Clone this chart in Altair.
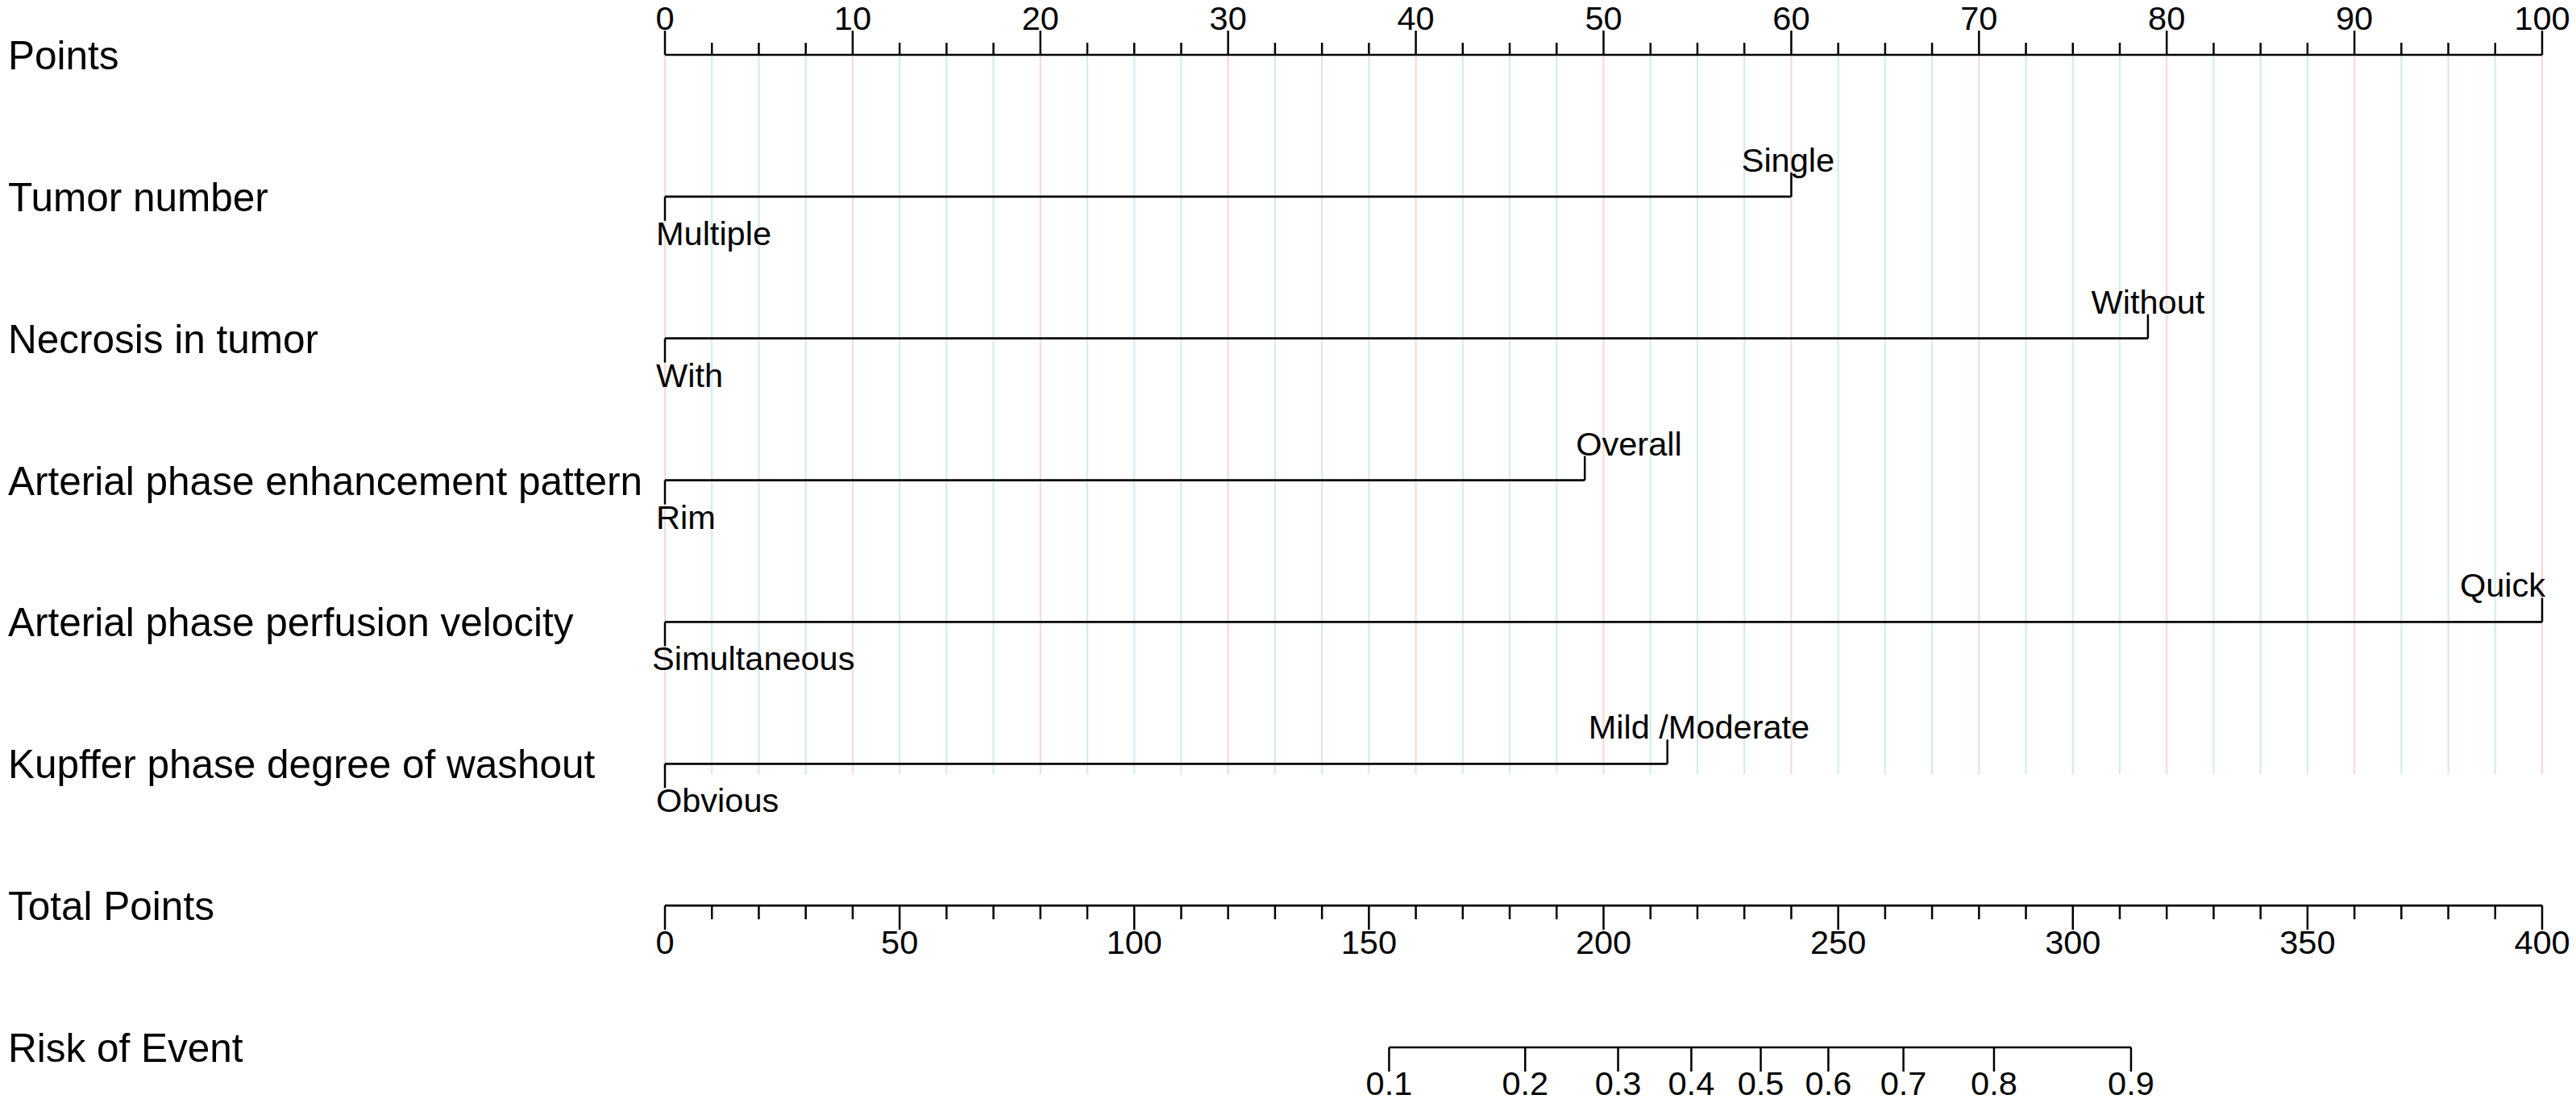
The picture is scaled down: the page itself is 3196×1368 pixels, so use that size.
import altair as alt
import pandas as pd

# ---------------- data ----------------
row_names = ["Points", "Tumor number", "Necrosis in tumor",
             "Arterial phase enhancement pattern", "Arterial phase perfusion velocity",
             "Kupffer phase degree of washout", "Total Points", "Risk of Event"]

var_low_labels = ["Multiple", "With", "Rim", "Simultaneous", "Obvious"]
var_high_labels = ["Single", "Without", "Overall", "Quick", "Mild /Moderate"]
var_high_points = [60, 79, 49, 100, 53.4]

points_major = [0, 10, 20, 30, 40, 50, 60, 70, 80, 90, 100]
points_minor_step = 2.5

total_major = [0, 50, 100, 150, 200, 250, 300, 350, 400]
total_minor_step = 10

risk_labels = ["0.1", "0.2", "0.3", "0.4", "0.5", "0.6", "0.7", "0.8", "0.9"]
risk_total_points = [154.3, 183.3, 203.1, 218.7, 233.5, 247.9, 263.9, 283.2, 312.4]

# ---------------- styling ----------------
FONT = "Liberation Sans"
ROW_FS = 49.5
LAB_FS = 41.5
LINE_W = 2.7
TICK_W = 2.5
GRID_MAJOR = "#F9DAD6"
GRID_MINOR = "#D3ECEF"

# label placement (align, dx) per variable
high_style = [("center", -4), ("center", 0), ("left", -11), ("right", 4), ("left", -98)]
low_style = [("left", -11), ("left", -11), ("left", -11), ("left", -16), ("left", -11)]

PAD = {"left": 0, "top": 12, "right": 10, "bottom": 8}
xs = alt.Scale(domain=[0, 100], range=[817, 3146])
ys = alt.Scale(domain=[0, 7], range=[48, 1279])


def X(f):
    return alt.X(f, type="quantitative", scale=xs, axis=None)


def X2(f):
    return alt.X2(f)


def Y(f):
    return alt.Y(f, type="quantitative", scale=ys, axis=None)


def Y2(f):
    return alt.Y2(f)


layers = []

# ---- grid lines ----
n_minor = int(100 / points_minor_step) + 1
grid_vals = [i * points_minor_step for i in range(n_minor)]
grid_df = pd.DataFrame({
    "p": grid_vals,
    "major": [1 if v in points_major else 0 for v in grid_vals],
    "r0": 0, "r1": 5,
})
layers.append(alt.Chart(grid_df).transform_filter("datum.major == 0")
              .mark_rule(color=GRID_MINOR, strokeWidth=2.2, y2Offset=13)
              .encode(x=X("p"), y=Y("r0"), y2=Y2("r1")))
layers.append(alt.Chart(grid_df).transform_filter("datum.major == 1")
              .mark_rule(color=GRID_MAJOR, strokeWidth=2.2, y2Offset=13)
              .encode(x=X("p"), y=Y("r0"), y2=Y2("r1")))

# ---- row labels ----
rows_df = pd.DataFrame({"name": row_names, "r": list(range(len(row_names)))})
layers.append(alt.Chart(rows_df).mark_text(
    align="left", baseline="alphabetic", font=FONT, fontSize=ROW_FS, dy=18, color="black")
    .encode(x=alt.value(2), y=Y("r"), text="name:N"))

# ---- Points axis ----
pa_df = pd.DataFrame({"a": [0], "b": [100], "r": [0]})
layers.append(alt.Chart(pa_df).mark_rule(color="black", strokeWidth=LINE_W)
              .encode(x=X("a"), x2=X2("b"), y=Y("r")))
pt_df = grid_df.assign(r=0)
layers.append(alt.Chart(pt_df).transform_filter("datum.major == 0")
              .mark_rule(color="black", strokeWidth=TICK_W, y2Offset=-15)
              .encode(x=X("p"), y=Y("r"), y2=Y2("r")))
layers.append(alt.Chart(pt_df).transform_filter("datum.major == 1")
              .mark_rule(color="black", strokeWidth=TICK_W, y2Offset=-30)
              .encode(x=X("p"), y=Y("r"), y2=Y2("r")))
layers.append(alt.Chart(pd.DataFrame({"p": points_major, "r": 0}))
              .mark_text(font=FONT, fontSize=LAB_FS, baseline="alphabetic", dy=-31, color="black")
              .encode(x=X("p"), y=Y("r"), text=alt.Text("p:Q", format="d")))

# ---- variable rows ----
for i in range(len(var_high_points)):
    r = i + 1
    vdf = pd.DataFrame({"a": [0], "b": [var_high_points[i]], "r": [r],
                        "lo": [var_low_labels[i]], "hi": [var_high_labels[i]]})
    layers.append(alt.Chart(vdf).mark_rule(color="black", strokeWidth=LINE_W)
                  .encode(x=X("a"), x2=X2("b"), y=Y("r")))
    layers.append(alt.Chart(vdf).mark_rule(color="black", strokeWidth=TICK_W, y2Offset=30)
                  .encode(x=X("a"), y=Y("r"), y2=Y2("r")))
    layers.append(alt.Chart(vdf).mark_rule(color="black", strokeWidth=TICK_W, y2Offset=-30)
                  .encode(x=X("b"), y=Y("r"), y2=Y2("r")))
    al, dx = low_style[i]
    layers.append(alt.Chart(vdf).mark_text(font=FONT, fontSize=LAB_FS, align=al, dx=dx,
                                           baseline="alphabetic", dy=60, color="black")
                  .encode(x=X("a"), y=Y("r"), text="lo:N"))
    al, dx = high_style[i]
    layers.append(alt.Chart(vdf).mark_text(font=FONT, fontSize=LAB_FS, align=al, dx=dx,
                                           baseline="alphabetic", dy=-31, color="black")
                  .encode(x=X("b"), y=Y("r"), text="hi:N"))

# ---- Total points axis ----
n_tot = int(400 / total_minor_step) + 1
tot_vals = [i * total_minor_step for i in range(n_tot)]
tot_df = pd.DataFrame({"t": tot_vals, "major": [1 if v in total_major else 0 for v in tot_vals], "r": 6})
tot_df_calc = alt.Chart(tot_df).transform_calculate(p="datum.t / 4")
layers.append(alt.Chart(pd.DataFrame({"a": [0], "b": [400], "r": [6]}))
              .transform_calculate(pa="datum.a / 4", pb="datum.b / 4")
              .mark_rule(color="black", strokeWidth=LINE_W)
              .encode(x=X("pa"), x2=X2("pb"), y=Y("r")))
layers.append(tot_df_calc.transform_filter("datum.major == 0")
              .mark_rule(color="black", strokeWidth=TICK_W, y2Offset=17)
              .encode(x=X("p"), y=Y("r"), y2=Y2("r")))
layers.append(tot_df_calc.transform_filter("datum.major == 1")
              .mark_rule(color="black", strokeWidth=TICK_W, y2Offset=30)
              .encode(x=X("p"), y=Y("r"), y2=Y2("r")))
layers.append(tot_df_calc.transform_filter("datum.major == 1")
              .mark_text(font=FONT, fontSize=LAB_FS, baseline="alphabetic", dy=60, color="black")
              .encode(x=X("p"), y=Y("r"), text=alt.Text("t:Q", format="d")))

# ---- Risk axis ----
risk_df = pd.DataFrame({"t": risk_total_points, "lab": risk_labels, "r": 7})
risk_base = alt.Chart(risk_df).transform_calculate(p="datum.t / 4")
layers.append(alt.Chart(pd.DataFrame({"a": [risk_total_points[0]], "b": [risk_total_points[-1]], "r": [7]}))
              .transform_calculate(pa="datum.a / 4", pb="datum.b / 4")
              .mark_rule(color="black", strokeWidth=LINE_W)
              .encode(x=X("pa"), x2=X2("pb"), y=Y("r")))
layers.append(risk_base.mark_rule(color="black", strokeWidth=TICK_W, y2Offset=30)
              .encode(x=X("p"), y=Y("r"), y2=Y2("r")))
layers.append(risk_base.mark_text(font=FONT, fontSize=LAB_FS, baseline="alphabetic", dy=59, color="black")
              .encode(x=X("p"), y=Y("r"), text="lab:N"))

chart = alt.layer(*layers).properties(
    width=3170, height=1340,
    autosize=alt.AutoSizeParams(type="none"),
    padding=PAD,
    background="white",
).configure_view(stroke=None)

chart.save("out.html", embed_options={"renderer": "svg", "actions": False})
